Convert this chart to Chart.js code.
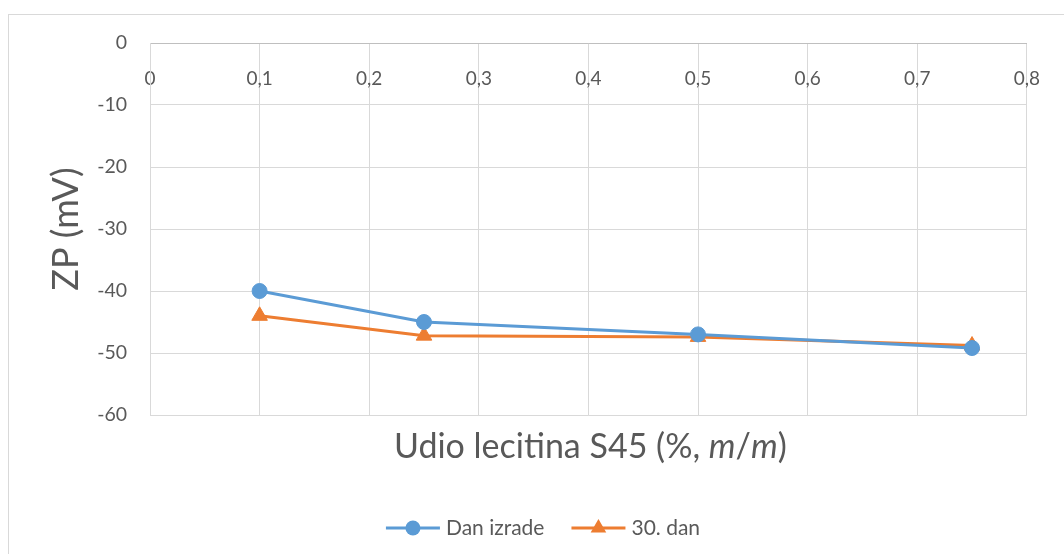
<!DOCTYPE html>
<html>
<head>
<meta charset="utf-8">
<script src="https://cdn.jsdelivr.net/npm/chart.js@4"></script>
<style>
  html, body { margin: 0; padding: 0; background: #fff; overflow: hidden; }
  #wrap { width: 1064px; height: 554px; }
</style>
</head>
<body>
<div id="wrap"><canvas id="zpChart"></canvas></div>
<script>
// Lecithin share (%, m/m) and zeta potential (mV)
const lecithin = [0.1, 0.25, 0.5, 0.75];
const zpDay0 = [-40, -45, -47, -49.2];
const zpDay30 = [-44, -47.2, -47.4, -48.8];
const seriesNames = ['Dan izrade', '30. dan'];
const xTickLabels = ['0', '0,1', '0,2', '0,3', '0,4', '0,5', '0,6', '0,7', '0,8'];
const yTickLabels = ['-60', '-50', '-40', '-30', '-20', '-10', '0'];
// x title pieces, the m's are in italics
const xTitleParts = [
    ['Udio lecitina S45 (%, ', false],
    ['m', true],
    ['/', false],
    ['m', true],
    [')', false]
];

const FONT = 'Lato, "Open Sans", sans-serif';
const TEXT = '#595959';
const GRID = '#d9d9d9';

const toPoints = (xs, ys) => xs.map((x, i) => ({ x: x, y: ys[i] }));

// outer frame of the chart object
const framePlugin = {
    id: 'frame',
    beforeDraw(chart) {
        const c = chart.ctx;
        c.save();
        c.strokeStyle = GRID;
        c.lineWidth = 1;
        c.strokeRect(8.5, 14.5, 1200, 700);
        c.restore();
    }
};

// x axis title with mixed upright / italic text
const xTitlePlugin = {
    id: 'xTitle',
    afterDraw(chart) {
        const c = chart.ctx;
        const area = chart.chartArea;
        const size = 34;
        const fontOf = it => (it ? 'italic ' : '') + size + 'px ' + FONT;
        c.save();
        c.textBaseline = 'middle';
        c.fillStyle = TEXT;
        let total = 0;
        xTitleParts.forEach(([t, it]) => {
            c.font = fontOf(it);
            total += c.measureText(t).width;
        });
        let x = (area.left + area.right) / 2 + 2 - total / 2;
        xTitleParts.forEach(([t, it]) => {
            c.font = fontOf(it);
            c.fillText(t, x, 447);
            x += c.measureText(t).width;
        });
        c.restore();
    }
};

// Excel-like legend: line with the marker in the middle
const legendPlugin = {
    id: 'lineLegend',
    afterDraw(chart) {
        const c = chart.ctx;
        const sets = chart.data.datasets;
        const y = 528, lineW = 54, gap = 6, between = 27;
        c.save();
        c.font = '21px ' + FONT;
        c.textBaseline = 'middle';
        let total = 0;
        sets.forEach((ds, i) => {
            total += lineW + gap + c.measureText(ds.label).width;
            if (i < sets.length - 1) total += between;
        });
        let x = 543 - total / 2;
        sets.forEach(ds => {
            c.strokeStyle = ds.borderColor;
            c.lineWidth = 3;
            c.beginPath();
            c.moveTo(x, y);
            c.lineTo(x + lineW, y);
            c.stroke();
            const cx = x + lineW / 2, r = ds.pointRadius;
            c.fillStyle = ds.backgroundColor;
            c.beginPath();
            if (ds.pointStyle === 'circle') {
                c.arc(cx, y, r, 0, Math.PI * 2);
            } else {
                c.moveTo(cx, y - r);
                c.lineTo(cx + r * 0.866, y + r * 0.5);
                c.lineTo(cx - r * 0.866, y + r * 0.5);
                c.closePath();
            }
            c.fill();
            x += lineW + gap;
            c.fillStyle = TEXT;
            c.fillText(ds.label, x, y);
            x += c.measureText(ds.label).width + between;
        });
        c.restore();
    }
};

new Chart(document.getElementById('zpChart'), {
    type: 'scatter',
    data: {
        datasets: [{
            label: seriesNames[0],
            data: toPoints(lecithin, zpDay0),
            showLine: true,
            borderColor: '#5b9bd5',
            backgroundColor: '#5b9bd5',
            borderWidth: 3,
            pointStyle: 'circle',
            pointRadius: 7.5,
            pointBorderWidth: 1,
            pointBackgroundColor: '#5b9bd5',
            pointBorderColor: '#5b9bd5'
        }, {
            label: seriesNames[1],
            data: toPoints(lecithin, zpDay30),
            showLine: true,
            borderColor: '#ed7d31',
            backgroundColor: '#ed7d31',
            borderWidth: 3,
            pointStyle: 'triangle',
            pointRadius: 9,
            pointBorderWidth: 1,
            pointBackgroundColor: '#ed7d31',
            pointBorderColor: '#ed7d31'
        }]
    },
    options: {
        responsive: true,
        maintainAspectRatio: false,
        animation: false,
        layout: { padding: { left: 0, top: 43, right: 37, bottom: 75 } },
        plugins: {
            legend: { display: false },
            tooltip: { enabled: false }
        },
        scales: {
            x: {
                type: 'linear',
                position: { y: 0 },
                min: 0,
                max: 0.8,
                grid: { color: GRID, drawTicks: false },
                border: { color: '#bfbfbf' },
                ticks: {
                    stepSize: 0.1,
                    padding: 24,
                    color: TEXT,
                    font: { family: FONT, size: 19 },
                    callback: (v, i) => xTickLabels[i]
                }
            },
            x2: {
                type: 'linear',
                position: 'bottom',
                min: 0,
                max: 0.8,
                grid: { display: false },
                border: { display: false },
                ticks: { display: false },
                afterFit(s) { s.height = 64; }
            },
            y: {
                min: -60,
                max: 0,
                grid: { color: GRID, drawTicks: false },
                border: { color: GRID },
                ticks: {
                    stepSize: 10,
                    padding: 23,
                    color: TEXT,
                    font: { family: FONT, size: 19.5 },
                    callback: (v, i) => yTickLabels[i]
                },
                title: {
                    display: true,
                    text: 'ZP (mV)',
                    color: TEXT,
                    font: { family: FONT, size: 36 },
                    padding: { top: 45, bottom: 0 }
                },
                afterFit(s) {
                    s.width = 150;
                    s.paddingTop = 0;
                    s.paddingBottom = 0;
                }
            }
        }
    },
    plugins: [framePlugin, xTitlePlugin, legendPlugin]
});
</script>
</body>
</html>
